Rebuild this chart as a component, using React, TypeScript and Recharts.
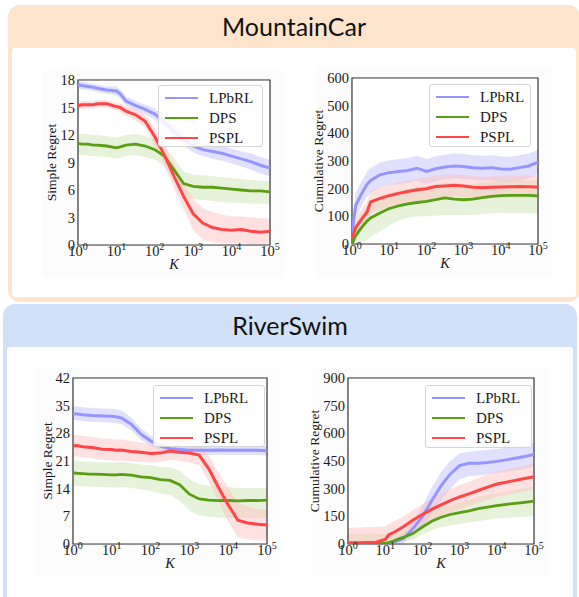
import React from 'react';
import { ComposedChart, Line, Area, XAxis, YAxis, CartesianGrid, ReferenceArea, Label } from 'recharts';

// ---- categories (log10 K) ----
const LOG_K = [0, 0.1, 0.25, 0.4, 0.5, 0.75, 1, 1.1, 1.25, 1.5, 1.75, 2, 2.25, 2.5, 2.75, 3, 3.25, 3.5, 3.75, 4, 4.25, 4.5, 4.75, 5];
const X_TICKS = [0, 1, 2, 3, 4, 5];
const SERIES_NAMES = ['LPbRL', 'DPS', 'PSPL'];

// ---- MountainCar, simple regret ----
const MC_S_LPBRL = [17.5, 17.4, 17.3, 17.2, 17.1, 16.9, 16.8, 16.5, 15.7, 15.2, 14.8, 14.3, 13.4, 12.4, 11.5, 10.8, 10.4, 10.2, 10.0, 9.7, 9.4, 9.1, 8.7, 8.4];
const MC_S_LPBRL_LO = [17.1, 17.0, 16.9, 16.8, 16.7, 16.5, 16.3, 16.0, 15.2, 14.7, 14.3, 13.7, 12.8, 11.8, 10.9, 10.1, 9.7, 9.4, 9.2, 8.9, 8.6, 8.2, 7.8, 7.5];
const MC_S_LPBRL_HI = [17.9, 17.8, 17.7, 17.6, 17.5, 17.3, 17.3, 17.0, 16.2, 15.7, 15.3, 14.9, 14.0, 13.0, 12.1, 11.5, 11.1, 11.0, 10.8, 10.5, 10.2, 10.0, 9.6, 9.3];
const MC_S_DPS = [11.1, 11.0, 11.0, 10.9, 10.9, 10.8, 10.6, 10.7, 10.9, 11.0, 10.8, 10.4, 9.7, 8.2, 6.7, 6.4, 6.3, 6.3, 6.2, 6.1, 6.0, 5.9, 5.9, 5.8];
const MC_S_DPS_LO = [9.9, 9.8, 9.8, 9.7, 9.7, 9.6, 9.4, 9.5, 9.7, 9.8, 9.6, 9.3, 8.6, 7.0, 5.3, 5.0, 4.9, 4.8, 4.7, 4.6, 4.6, 4.5, 4.5, 4.5];
const MC_S_DPS_HI = [12.2, 12.1, 12.1, 12.0, 12.0, 11.9, 11.7, 11.8, 12.0, 12.1, 11.9, 11.5, 10.8, 9.5, 8.0, 7.7, 7.6, 7.5, 7.4, 7.3, 7.2, 7.1, 7.0, 7.0];
const MC_S_PSPL = [15.2, 15.3, 15.3, 15.3, 15.4, 15.4, 15.1, 15.0, 14.6, 14.2, 13.5, 11.8, 9.8, 7.5, 5.3, 3.4, 2.4, 1.9, 1.7, 1.6, 1.7, 1.5, 1.4, 1.5];
const MC_S_PSPL_LO = [14.8, 14.9, 14.9, 14.9, 15.0, 15.0, 14.7, 14.5, 14.1, 13.6, 12.8, 10.8, 8.7, 6.2, 3.9, 1.6, 0.6, 0.3, 0.2, 0.2, 0.2, 0.1, 0.1, 0.1];
const MC_S_PSPL_HI = [15.6, 15.7, 15.7, 15.7, 15.8, 15.8, 15.5, 15.5, 15.1, 14.8, 14.2, 12.8, 10.9, 8.8, 6.7, 5.0, 4.0, 3.6, 3.3, 3.1, 3.1, 3.0, 2.9, 2.9];
const MC_S_YTICKS = [0, 3, 6, 9, 12, 15, 18];

// ---- MountainCar, cumulative regret ----
const MC_C_LPBRL = [40, 140, 180, 215, 230, 250, 258, 259, 262, 266, 274, 262, 272, 278, 282, 280, 276, 274, 276, 271, 270, 276, 282, 296];
const MC_C_LPBRL_LO = [10, 95, 135, 170, 185, 205, 213, 214, 217, 221, 229, 217, 227, 233, 237, 235, 231, 229, 231, 226, 225, 231, 237, 251];
const MC_C_LPBRL_HI = [70, 185, 225, 260, 275, 295, 303, 304, 307, 311, 319, 307, 317, 323, 327, 325, 321, 319, 321, 316, 315, 321, 327, 341];
const MC_C_DPS = [0, 30, 58, 82, 94, 112, 128, 132, 138, 145, 150, 154, 160, 167, 162, 160, 162, 168, 172, 175, 176, 176, 176, 174];
const MC_C_DPS_LO = [0, 0, 5, 15, 25, 45, 65, 75, 85, 95, 100, 100, 102, 105, 105, 105, 105, 108, 110, 112, 112, 112, 112, 110];
const MC_C_DPS_HI = [5, 75, 110, 135, 150, 168, 183, 187, 193, 200, 205, 209, 215, 222, 217, 215, 217, 223, 227, 230, 231, 231, 231, 229];
const MC_C_PSPL = [20, 60, 88, 115, 152, 165, 175, 178, 183, 190, 196, 200, 208, 210, 212, 210, 205, 203, 205, 206, 207, 208, 207, 206];
const MC_C_PSPL_LO = [5, 30, 55, 78, 112, 125, 135, 138, 143, 150, 156, 160, 168, 170, 172, 170, 165, 163, 165, 166, 167, 168, 167, 166];
const MC_C_PSPL_HI = [35, 95, 125, 152, 192, 205, 215, 218, 223, 230, 236, 240, 248, 250, 252, 250, 245, 243, 245, 246, 247, 248, 247, 246];
const MC_C_YTICKS = [0, 100, 200, 300, 400, 500, 600];

// ---- RiverSwim, simple regret ----
const RS_S_LPBRL = [33.0, 32.9, 32.7, 32.6, 32.5, 32.4, 32.3, 32.2, 31.9, 30.3, 27.8, 26.1, 24.8, 24.1, 23.9, 23.7, 23.7, 23.7, 23.8, 23.7, 23.7, 23.7, 23.7, 23.6];
const RS_S_LPBRL_LO = [31.4, 31.3, 31.1, 31.0, 30.9, 30.8, 30.7, 30.6, 30.3, 28.8, 26.4, 24.8, 23.6, 22.9, 22.7, 22.5, 22.5, 22.5, 22.6, 22.5, 22.5, 22.5, 22.5, 22.4];
const RS_S_LPBRL_HI = [34.9, 34.8, 34.6, 34.5, 34.4, 34.3, 34.2, 34.1, 33.8, 32.0, 29.3, 27.4, 26.0, 25.3, 25.1, 24.9, 24.9, 24.9, 25.0, 24.9, 24.9, 24.9, 24.9, 24.8];
const RS_S_DPS = [18.0, 17.9, 17.8, 17.7, 17.7, 17.6, 17.5, 17.5, 17.6, 17.4, 17.0, 16.8, 16.3, 16.1, 15.0, 12.6, 11.4, 11.1, 11.0, 11.0, 10.9, 11.0, 11.0, 11.1];
const RS_S_DPS_LO = [14.8, 14.7, 14.6, 14.5, 14.5, 14.4, 14.3, 14.3, 14.4, 14.2, 13.8, 13.5, 12.8, 12.4, 11.0, 8.4, 7.2, 6.9, 6.7, 6.6, 6.6, 6.6, 6.6, 6.7];
const RS_S_DPS_HI = [21.1, 21.0, 20.9, 20.8, 20.8, 20.7, 20.6, 20.6, 20.7, 20.5, 20.1, 19.9, 19.5, 19.4, 18.6, 16.4, 15.1, 14.8, 14.6, 14.4, 14.2, 14.2, 14.2, 14.3];
const RS_S_PSPL = [24.8, 24.9, 24.6, 24.5, 24.4, 24.0, 23.9, 23.7, 23.8, 23.4, 23.2, 22.9, 23.0, 23.5, 23.2, 23.0, 22.5, 19.0, 14.3, 9.9, 6.0, 5.3, 5.0, 4.8];
const RS_S_PSPL_LO = [22.1, 22.2, 21.9, 21.8, 21.7, 21.3, 21.2, 21.0, 21.1, 20.9, 20.8, 20.6, 20.8, 21.3, 21.0, 20.7, 19.9, 15.9, 10.8, 5.6, 1.8, 1.2, 0.9, 0.8];
const RS_S_PSPL_HI = [27.5, 27.6, 27.3, 27.2, 27.1, 26.7, 26.6, 26.4, 26.5, 26.0, 25.7, 25.3, 25.3, 25.8, 25.5, 25.3, 25.1, 22.3, 18.0, 14.3, 10.4, 9.4, 8.9, 8.6];
const RS_S_YTICKS = [0, 7, 14, 21, 28, 35, 42];

// ---- RiverSwim, cumulative regret ----
const RS_C_LPBRL = [5, 5, 5, 6, 6, 5, 2, 5, 12, 30, 85, 148, 235, 315, 380, 425, 438, 438, 442, 448, 456, 465, 474, 485];
const RS_C_LPBRL_LO = [0, 0, 0, 0, 0, 0, 0, 0, 0, 5, 40, 90, 165, 235, 300, 350, 368, 372, 378, 385, 392, 400, 408, 420];
const RS_C_LPBRL_HI = [15, 15, 15, 15, 15, 15, 10, 15, 30, 60, 130, 205, 305, 390, 450, 490, 500, 505, 510, 515, 522, 530, 538, 548];
const RS_C_DPS = [5, 5, 5, 5, 6, 6, 3, 8, 18, 37, 58, 92, 123, 145, 160, 170, 180, 192, 200, 208, 215, 220, 226, 232];
const RS_C_DPS_LO = [0, 0, 0, 0, 0, 0, 0, 0, 5, 15, 25, 50, 75, 92, 100, 108, 116, 124, 132, 138, 142, 145, 148, 152];
const RS_C_DPS_HI = [55, 55, 55, 55, 55, 55, 55, 55, 60, 70, 95, 135, 170, 195, 210, 225, 240, 255, 265, 275, 285, 293, 302, 310];
const RS_C_PSPL = [5, 5, 5, 6, 7, 10, 25, 50, 65, 95, 130, 160, 188, 212, 235, 255, 272, 290, 308, 325, 335, 345, 355, 365];
const RS_C_PSPL_LO = [0, 0, 0, 0, 0, 0, 5, 20, 30, 50, 80, 105, 130, 150, 170, 190, 205, 222, 240, 255, 265, 275, 285, 295];
const RS_C_PSPL_HI = [85, 88, 90, 90, 92, 92, 95, 110, 125, 150, 185, 215, 245, 275, 300, 320, 338, 358, 378, 395, 405, 415, 425, 438];
const RS_C_YTICKS = [0, 150, 300, 450, 600, 750, 900];

// ---- styles ----
const COLORS = { lp: '#9595ff', dps: '#58a012', pspl: '#ff4545' };
const BAND = { lp: '#c4c4ff', dps: '#c9e2ae', pspl: '#ffbdbd' };
const SERIF = 'Liberation Serif, DejaVu Serif, serif';
const TXT = '#1a1a1a';

type Cfg = {
  plotLeft: number; plotTop: number; pw: number; ph: number;
  yTicks: number[]; yLabel: string; yLabelGap: number;
  lp: number[]; lpLo: number[]; lpHi: number[];
  dps: number[]; dpsLo: number[]; dpsHi: number[];
  pspl: number[]; psplLo: number[]; psplHi: number[];
  legend: { x: number; y: number; w: number; h: number };
};

const LogTick = (props: any) => {
  const { x, y, payload } = props;
  return (
    <text x={x} y={y + 11} textAnchor="middle" fontFamily={SERIF} fontSize={14.5} fill={TXT}>
      <tspan>10</tspan>
      <tspan dy={-6} fontSize={10}>{payload.value}</tspan>
    </text>
  );
};

const LegendBox = ({ x, y, w, h }: { x: number; y: number; w: number; h: number }) => {
  const cols = [COLORS.lp, COLORS.dps, COLORS.pspl];
  return (
    <div style={{ position: 'absolute', left: x, top: y, width: w, height: h, boxSizing: 'border-box', border: '1px solid #d5d5d5', borderRadius: 3, background: 'rgba(255,255,255,0.85)' }}>
      {SERIES_NAMES.map((n, i) => (
        <div key={n}>
          <div style={{ position: 'absolute', left: 6, top: 10.5 + i * 20, width: 33, height: 2.5, background: cols[i] }} />
          <div style={{ position: 'absolute', left: 50, top: 1.5 + i * 20, fontFamily: SERIF, fontSize: 15, lineHeight: '20px', color: TXT }}>{n}</div>
        </div>
      ))}
    </div>
  );
};

const RegretChart = ({ c }: { c: Cfg }) => {
  const yMax = c.yTicks[c.yTicks.length - 1];
  const rows = LOG_K.map((lx, i) => ({
    lx,
    lp: c.lp[i], lpBand: [c.lpLo[i], c.lpHi[i]],
    dps: c.dps[i], dpsBand: [c.dpsLo[i], c.dpsHi[i]],
    pspl: c.pspl[i], psplBand: [c.psplLo[i], c.psplHi[i]],
  }));
  const W = c.pw + 50;
  const H = c.ph + 50;
  const yLab = () => {
    const cx = 40 - c.yLabelGap;
    const cy = 10 + c.ph / 2;
    return (
      <text x={cx} y={cy} transform={`rotate(-90 ${cx} ${cy})`} textAnchor="middle" dominantBaseline="central" fontFamily={SERIF} fontSize={13.5} fill={TXT}>
        {c.yLabel}
      </text>
    );
  };
  const xLab = () => (
    <text x={40 + c.pw / 2} y={10 + c.ph + 24} textAnchor="middle" fontFamily={SERIF} fontStyle="italic" fontSize={14.5} fill={TXT}>K</text>
  );
  return (
    <>
      <div style={{ position: 'absolute', left: c.plotLeft - 36, top: c.plotTop - 10, width: c.pw + 49, height: c.ph + 42, background: '#fcfcfc' }} />
      <div style={{ position: 'absolute', left: c.plotLeft - 40, top: c.plotTop - 10 }}>
        <ComposedChart width={W} height={H} data={rows} margin={{ top: 10, right: 10, left: 0, bottom: 0 }}>
          <rect x={40} y={10} width={c.pw} height={c.ph} fill="#ffffff" />
          <CartesianGrid stroke="#d3d3d3" strokeWidth={1} />
          <XAxis dataKey="lx" type="number" domain={[0, 5]} ticks={X_TICKS} allowDataOverflow height={40}
            tick={<LogTick />} tickLine={false} tickSize={0} tickMargin={0} axisLine={false} interval={0}>
            <Label content={xLab} />
          </XAxis>
          <YAxis type="number" domain={[0, yMax]} ticks={c.yTicks} allowDataOverflow width={40} interval={0}
            tick={{ fontFamily: SERIF, fontSize: 14.5, fill: TXT }} tickLine={false} tickSize={0} tickMargin={3} axisLine={false}>
            <Label content={yLab} />
          </YAxis>
          <Area dataKey="lpBand" type="linear" stroke="none" fill={BAND.lp} fillOpacity={0.5} isAnimationActive={false} dot={false} activeDot={false} />
          <Area dataKey="dpsBand" type="linear" stroke="none" fill={BAND.dps} fillOpacity={0.45} isAnimationActive={false} dot={false} activeDot={false} />
          <Area dataKey="psplBand" type="linear" stroke="none" fill={BAND.pspl} fillOpacity={0.45} isAnimationActive={false} dot={false} activeDot={false} />
          <Line dataKey="lp" type="linear" stroke={COLORS.lp} strokeWidth={3} dot={false} activeDot={false} isAnimationActive={false} />
          <Line dataKey="dps" type="linear" stroke={COLORS.dps} strokeWidth={2.8} dot={false} activeDot={false} isAnimationActive={false} />
          <Line dataKey="pspl" type="linear" stroke={COLORS.pspl} strokeWidth={3} dot={false} activeDot={false} isAnimationActive={false} />
          <ReferenceArea x1={0} x2={5} y1={0} y2={yMax} fill="none" stroke="#3a3a3a" strokeWidth={1.2} ifOverflow="visible" />
        </ComposedChart>
      </div>
      <LegendBox {...c.legend} />
    </>
  );
};

const CHARTS: Cfg[] = [
  {
    plotLeft: 78, plotTop: 80, pw: 192, ph: 165, yTicks: MC_S_YTICKS, yLabel: 'Simple Regret', yLabelGap: 27,
    lp: MC_S_LPBRL, lpLo: MC_S_LPBRL_LO, lpHi: MC_S_LPBRL_HI,
    dps: MC_S_DPS, dpsLo: MC_S_DPS_LO, dpsHi: MC_S_DPS_HI,
    pspl: MC_S_PSPL, psplLo: MC_S_PSPL_LO, psplHi: MC_S_PSPL_HI,
    legend: { x: 158, y: 85, w: 105, h: 62 },
  },
  {
    plotLeft: 352, plotTop: 78, pw: 186, ph: 166, yTicks: MC_C_YTICKS, yLabel: 'Cumulative Regret', yLabelGap: 34,
    lp: MC_C_LPBRL, lpLo: MC_C_LPBRL_LO, lpHi: MC_C_LPBRL_HI,
    dps: MC_C_DPS, dpsLo: MC_C_DPS_LO, dpsHi: MC_C_DPS_HI,
    pspl: MC_C_PSPL, psplLo: MC_C_PSPL_LO, psplHi: MC_C_PSPL_HI,
    legend: { x: 429, y: 84, w: 102, h: 63 },
  },
  {
    plotLeft: 73, plotTop: 378, pw: 194, ph: 166, yTicks: RS_S_YTICKS, yLabel: 'Simple Regret', yLabelGap: 26,
    lp: RS_S_LPBRL, lpLo: RS_S_LPBRL_LO, lpHi: RS_S_LPBRL_HI,
    dps: RS_S_DPS, dpsLo: RS_S_DPS_LO, dpsHi: RS_S_DPS_HI,
    pspl: RS_S_PSPL, psplLo: RS_S_PSPL_LO, psplHi: RS_S_PSPL_HI,
    legend: { x: 153, y: 385, w: 112, h: 62 },
  },
  {
    plotLeft: 348, plotTop: 378, pw: 186, ph: 166, yTicks: RS_C_YTICKS, yLabel: 'Cumulative Regret', yLabelGap: 34,
    lp: RS_C_LPBRL, lpLo: RS_C_LPBRL_LO, lpHi: RS_C_LPBRL_HI,
    dps: RS_C_DPS, dpsLo: RS_C_DPS_LO, dpsHi: RS_C_DPS_HI,
    pspl: RS_C_PSPL, psplLo: RS_C_PSPL_LO, psplHi: RS_C_PSPL_HI,
    legend: { x: 425, y: 385, w: 107, h: 63 },
  },
];

const Panel = ({ left, top, width, height, color, title }: { left: number; top: number; width: number; height: number; color: string; title: string }) => (
  <div style={{ position: 'absolute', left, top, width, height, background: color, borderRadius: 12, overflow: 'hidden' }}>
    <svg width={width} height={43} style={{ position: 'absolute', left: 0, top: 0 }}>
      <text x={width / 2} y={31} textAnchor="middle" fontFamily="Lato, 'Open Sans', sans-serif" fontSize={25} fill="#111">{title}</text>
    </svg>
    <div style={{ position: 'absolute', left: 4, top: 43, width: width - 8, height: height - 48, background: '#ffffff', borderRadius: 3 }} />
  </div>
);

export default function App() {
  return (
    <div style={{ position: 'absolute', left: 0, top: 0, width: 579, height: 597, overflow: 'hidden', background: '#ffffff' }}>
      <Panel left={8} top={5} width={572} height={297} color="#fde4cd" title="MountainCar" />
      <Panel left={3} top={304} width={574} height={310} color="#d1e1f8" title="RiverSwim" />
      {CHARTS.map((c, i) => <RegretChart key={i} c={c} />)}
    </div>
  );
}
